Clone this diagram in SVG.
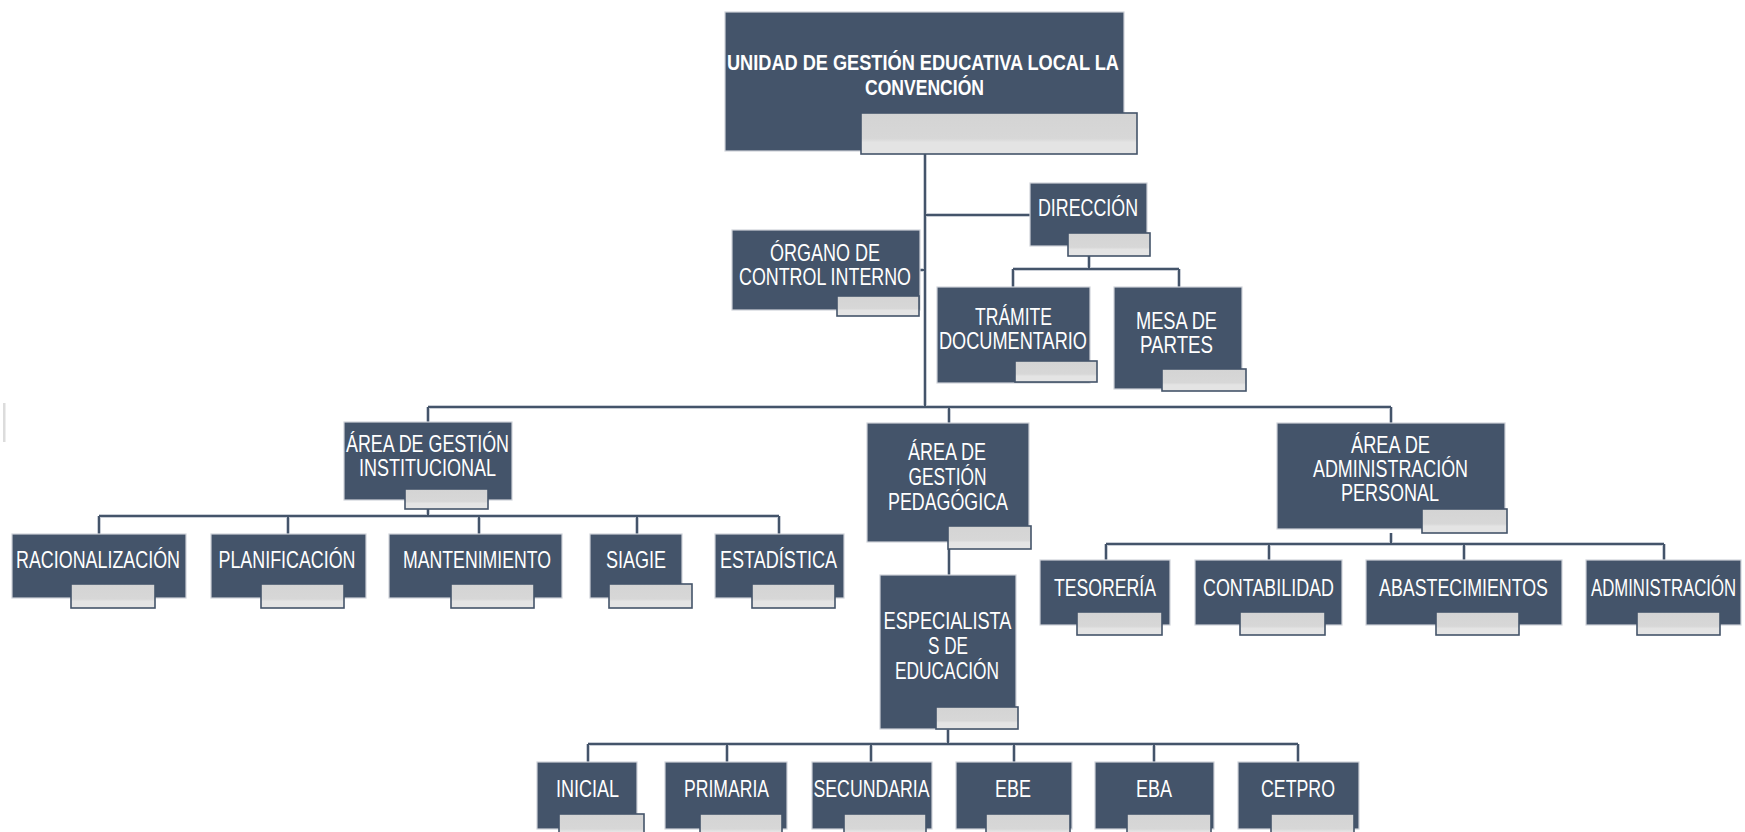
<svg xmlns="http://www.w3.org/2000/svg" width="1745" height="832" viewBox="0 0 1745 832">
<defs>
<linearGradient id="gr" x1="0" y1="0" x2="0" y2="1">
<stop offset="0" stop-color="#d4d4d4"/>
<stop offset="0.62" stop-color="#d7d7d7"/>
<stop offset="0.72" stop-color="#e4e4e4"/>
<stop offset="1" stop-color="#e4e4e4"/>
</linearGradient>
<style>
.b{fill:#44546a;stroke:#cfd3d9;stroke-width:1.2}
.g{fill:url(#gr);stroke:#44546a;stroke-width:1.6}
.t{fill:#ffffff;font-family:"Liberation Sans",Arial,sans-serif;font-size:24px;text-anchor:middle}
.tt{fill:#ffffff;font-family:"Liberation Sans",Arial,sans-serif;font-size:22px;font-weight:bold;text-anchor:middle}
.c{fill:none;stroke:#44546a;stroke-width:2}
.cs{fill:none;stroke:#c9ced6;stroke-width:4}
</style>
</defs>
<rect width="1745" height="832" fill="#ffffff"/>
<rect x="3" y="403" width="2.5" height="39" fill="#dcdcdc"/>

<g id="connectors">
<path class="cs" d="M925 154V407M925 215H1030M920 270H925M1089 256V269M1013 269H1179M1013 269V287M1179 269V287M428 407H1391M428 407V422M949 407V423M1391 407V423M428 509V516M99 516H779M99 516V534M288 516V534M479 516V534M637 516V534M779 516V534M949 549V575M1391 533V544M1106 544H1664M1106 544V560M1269 544V560M1464 544V560M1664 544V560M948 729V744M588 744H1298M588 744V762M727 744V762M871 744V762M1014 744V762M1154 744V762M1298 744V762"/>
<path class="c" d="M925 154V407M925 215H1030M920 270H925M1089 256V269M1013 269H1179M1013 269V287M1179 269V287M428 407H1391M428 407V422M949 407V423M1391 407V423M428 509V516M99 516H779M99 516V534M288 516V534M479 516V534M637 516V534M779 516V534M949 549V575M1391 533V544M1106 544H1664M1106 544V560M1269 544V560M1464 544V560M1664 544V560M948 729V744M588 744H1298M588 744V762M727 744V762M871 744V762M1014 744V762M1154 744V762M1298 744V762"/>
</g>

<g id="ugel">
<rect class="b" x="725" y="12" width="399" height="139"/>
<rect class="g" x="861" y="113" width="276" height="41"/>
<text class="tt" x="923" y="70" textLength="392" lengthAdjust="spacingAndGlyphs">UNIDAD DE GESTIÓN EDUCATIVA LOCAL LA</text>
<text class="tt" x="924.5" y="95" textLength="119" lengthAdjust="spacingAndGlyphs">CONVENCIÓN</text>
</g>

<g id="direccion">
<rect class="b" x="1030" y="183" width="117" height="63"/>
<rect class="g" x="1068" y="233" width="82" height="23"/>
<text class="t" x="1088" y="216" textLength="100" lengthAdjust="spacingAndGlyphs">DIRECCIÓN</text>
</g>

<g id="organo">
<rect class="b" x="732" y="230" width="188" height="80"/>
<rect class="g" x="837" y="296" width="82" height="20"/>
<text class="t" x="825" y="261" textLength="110" lengthAdjust="spacingAndGlyphs">ÓRGANO DE</text>
<text class="t" x="825" y="285" textLength="172" lengthAdjust="spacingAndGlyphs">CONTROL INTERNO</text>
</g>

<g id="tramite">
<rect class="b" x="937" y="287" width="153" height="96"/>
<rect class="g" x="1015" y="361" width="82" height="21"/>
<text class="t" x="1013.5" y="325" textLength="77" lengthAdjust="spacingAndGlyphs">TRÁMITE</text>
<text class="t" x="1013" y="349" textLength="148" lengthAdjust="spacingAndGlyphs">DOCUMENTARIO</text>
</g>

<g id="mesa">
<rect class="b" x="1114" y="287" width="128" height="102"/>
<rect class="g" x="1162" y="369" width="84" height="22"/>
<text class="t" x="1176.5" y="329" textLength="81" lengthAdjust="spacingAndGlyphs">MESA DE</text>
<text class="t" x="1176.5" y="353" textLength="73" lengthAdjust="spacingAndGlyphs">PARTES</text>
</g>

<g id="area-institucional">
<rect class="b" x="344" y="422" width="168" height="78"/>
<rect class="g" x="405" y="489" width="83" height="20"/>
<text class="t" x="427.5" y="452" textLength="163" lengthAdjust="spacingAndGlyphs">ÁREA DE GESTIÓN</text>
<text class="t" x="427.5" y="476" textLength="137" lengthAdjust="spacingAndGlyphs">INSTITUCIONAL</text>
</g>

<g id="area-pedagogica">
<rect class="b" x="867" y="423" width="162" height="119"/>
<rect class="g" x="948" y="526" width="83" height="23"/>
<text class="t" x="947" y="460" textLength="78" lengthAdjust="spacingAndGlyphs">ÁREA DE</text>
<text class="t" x="947.5" y="485" textLength="78" lengthAdjust="spacingAndGlyphs">GESTIÓN</text>
<text class="t" x="948" y="510" textLength="120" lengthAdjust="spacingAndGlyphs">PEDAGÓGICA</text>
</g>

<g id="area-administracion">
<rect class="b" x="1277" y="423" width="228" height="106"/>
<rect class="g" x="1422" y="509" width="85" height="24"/>
<text class="t" x="1390.5" y="453" textLength="79" lengthAdjust="spacingAndGlyphs">ÁREA DE</text>
<text class="t" x="1390.5" y="477" textLength="155" lengthAdjust="spacingAndGlyphs">ADMINISTRACIÓN</text>
<text class="t" x="1390" y="501" textLength="98" lengthAdjust="spacingAndGlyphs">PERSONAL</text>
</g>

<g id="racionalizacion">
<rect class="b" x="12" y="534" width="174" height="64"/>
<rect class="g" x="71" y="584" width="84" height="24"/>
<text class="t" x="98" y="568" textLength="164" lengthAdjust="spacingAndGlyphs">RACIONALIZACIÓN</text>
</g>
<g id="planificacion">
<rect class="b" x="211" y="534" width="155" height="64"/>
<rect class="g" x="261" y="584" width="83" height="24"/>
<text class="t" x="287" y="568" textLength="137" lengthAdjust="spacingAndGlyphs">PLANIFICACIÓN</text>
</g>
<g id="mantenimiento">
<rect class="b" x="389" y="534" width="173" height="64"/>
<rect class="g" x="451" y="584" width="83" height="24"/>
<text class="t" x="477" y="568" textLength="148" lengthAdjust="spacingAndGlyphs">MANTENIMIENTO</text>
</g>
<g id="siagie">
<rect class="b" x="590" y="534" width="92" height="64"/>
<rect class="g" x="609" y="584" width="83" height="24"/>
<text class="t" x="636" y="568" textLength="60" lengthAdjust="spacingAndGlyphs">SIAGIE</text>
</g>
<g id="estadistica">
<rect class="b" x="715" y="534" width="129" height="64"/>
<rect class="g" x="752" y="584" width="83" height="24"/>
<text class="t" x="778.5" y="568" textLength="117" lengthAdjust="spacingAndGlyphs">ESTADÍSTICA</text>
</g>

<g id="especialistas">
<rect class="b" x="880" y="575" width="136" height="154"/>
<rect class="g" x="936" y="707" width="82" height="22"/>
<text class="t" x="947.5" y="629" textLength="128" lengthAdjust="spacingAndGlyphs">ESPECIALISTA</text>
<text class="t" x="948" y="654" textLength="40" lengthAdjust="spacingAndGlyphs">S DE</text>
<text class="t" x="947" y="679" textLength="104" lengthAdjust="spacingAndGlyphs">EDUCACIÓN</text>
</g>

<g id="tesoreria">
<rect class="b" x="1040" y="560" width="130" height="65"/>
<rect class="g" x="1077" y="612" width="85" height="23"/>
<text class="t" x="1105" y="596" textLength="102" lengthAdjust="spacingAndGlyphs">TESORERÍA</text>
</g>
<g id="contabilidad">
<rect class="b" x="1195" y="560" width="147" height="65"/>
<rect class="g" x="1240" y="612" width="85" height="23"/>
<text class="t" x="1268.5" y="596" textLength="131" lengthAdjust="spacingAndGlyphs">CONTABILIDAD</text>
</g>
<g id="abastecimientos">
<rect class="b" x="1366" y="560" width="196" height="65"/>
<rect class="g" x="1436" y="612" width="83" height="23"/>
<text class="t" x="1463.5" y="596" textLength="169" lengthAdjust="spacingAndGlyphs">ABASTECIMIENTOS</text>
</g>
<g id="administracion">
<rect class="b" x="1586" y="560" width="155" height="65"/>
<rect class="g" x="1637" y="612" width="83" height="23"/>
<text class="t" x="1663.5" y="596" textLength="145" lengthAdjust="spacingAndGlyphs">ADMINISTRACIÓN</text>
</g>

<g id="inicial">
<rect class="b" x="537" y="762" width="100" height="67"/>
<rect class="g" x="559" y="814" width="85" height="24"/>
<text class="t" x="587.5" y="797" textLength="63" lengthAdjust="spacingAndGlyphs">INICIAL</text>
</g>
<g id="primaria">
<rect class="b" x="665" y="762" width="122" height="67"/>
<rect class="g" x="700" y="814" width="82" height="24"/>
<text class="t" x="726.5" y="797" textLength="85" lengthAdjust="spacingAndGlyphs">PRIMARIA</text>
</g>
<g id="secundaria">
<rect class="b" x="812" y="762" width="120" height="67"/>
<rect class="g" x="844" y="814" width="82" height="24"/>
<text class="t" x="871.5" y="797" textLength="116" lengthAdjust="spacingAndGlyphs">SECUNDARIA</text>
</g>
<g id="ebe">
<rect class="b" x="956" y="762" width="116" height="67"/>
<rect class="g" x="986" y="814" width="84" height="24"/>
<text class="t" x="1013" y="797" textLength="36" lengthAdjust="spacingAndGlyphs">EBE</text>
</g>
<g id="eba">
<rect class="b" x="1095" y="762" width="119" height="67"/>
<rect class="g" x="1127" y="814" width="84" height="24"/>
<text class="t" x="1154" y="797" textLength="36" lengthAdjust="spacingAndGlyphs">EBA</text>
</g>
<g id="cetpro">
<rect class="b" x="1238" y="762" width="121" height="67"/>
<rect class="g" x="1271" y="814" width="83" height="24"/>
<text class="t" x="1298" y="797" textLength="74" lengthAdjust="spacingAndGlyphs">CETPRO</text>
</g>
</svg>
